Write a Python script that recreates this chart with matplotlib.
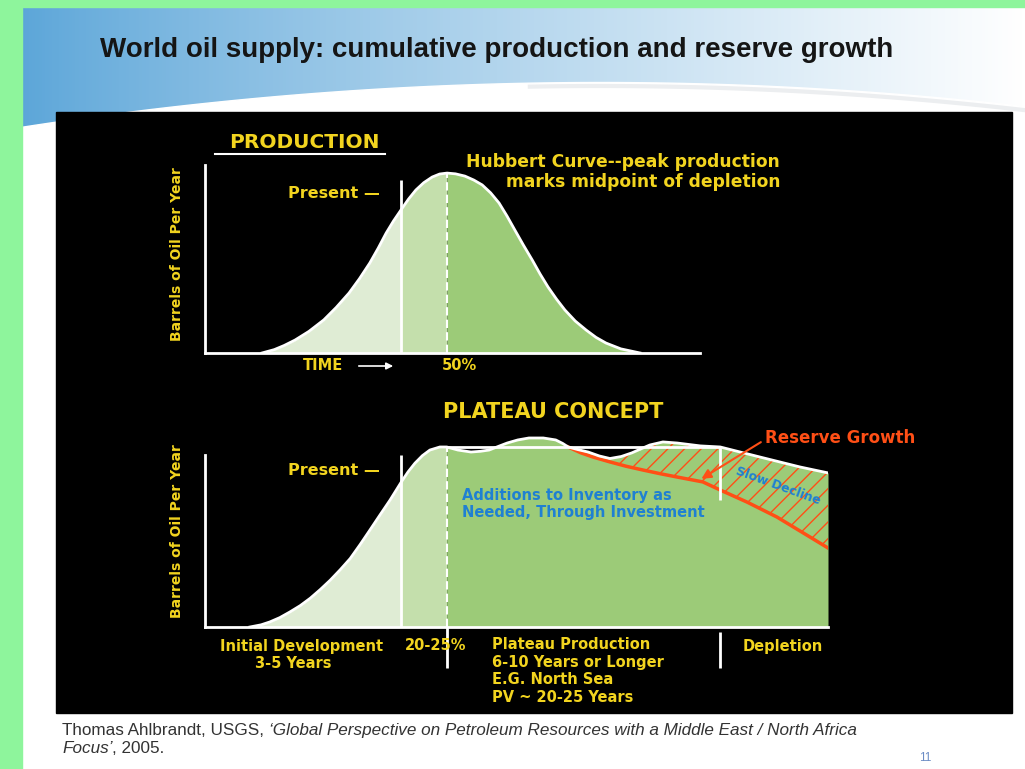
import matplotlib.pyplot as plt
import numpy as np
from matplotlib.patches import Rectangle

W, H = 1025, 769

# ---- values ----
# top panel: Hubbert curve (time 0-100 across the axis, production 0-100)
hubbert_t = [11.5, 14, 16, 18.2, 21, 24.0, 26.5, 29.1, 31.2, 33.3, 35, 36.6,
             38.1, 39.6, 41.1, 42.6, 44.2, 45.9, 47.4, 48.9, 50.6, 52.5, 54.3,
             56.0, 57.7, 59.4, 61.0, 62.6, 64.3, 66.1, 67.7, 69.3, 71.0, 72.7,
             74.8, 77.0, 79.0, 81.0, 84.0, 87.9]
hubbert_q = [0, 1.8, 4.0, 6.9, 11.5, 17.6, 24.2, 31.9, 39.5, 47.9, 55.8, 63.8,
             70.3, 76.1, 81.8, 86.7, 90.6, 93.6, 95.2, 95.7, 95.3, 94.1, 92.0,
             89.4, 85.2, 79.8, 72.9, 65.4, 57.5, 49.5, 42.0, 35.1, 28.7, 22.9,
             17.0, 12.2, 8.3, 5.3, 2.2, 0]
present_top = 39.6
peak_top = 48.9

# bottom panel: plateau concept
plateau_t = [7.2, 9, 10.4, 12, 13.6, 15.3, 16.9, 18.5, 20.1, 21.7, 23.3, 24.9,
             26.5, 28.1, 29.7, 31.5, 32.6, 33.7, 34.9, 36.1, 37.7, 38.8, 40.6,
             42.7, 44.2, 45.6, 47.0, 48.5, 50.2, 52.0, 54.3, 56.3, 57.4, 58.3,
             59.9, 61.5, 63.3, 65.0, 66.8, 68.5, 70.0, 71.4, 73.5, 75.8, 79.5,
             82.7, 89.1, 95.5, 100]
plateau_q = [0, 1.2, 2.8, 5.2, 8.3, 11.9, 16, 20.8, 26, 31.8, 38, 45.8,
             54, 62.3, 70.5, 80.5, 86.2, 91, 95.2, 98.3, 100, 100, 98.3,
             97.2, 97.6, 98.3, 100.2, 102.2, 103.9, 105, 105, 103.9, 102, 100,
             98.5, 97.2, 95, 93.6, 94.7, 96.7, 99.0, 101.1, 102.8, 102.2, 100.6,
             100, 94.4, 88.9, 85.6]
reserve_t = [58.3, 60.3, 62.3, 65.0, 67.6, 70.3, 73.0, 75.8, 79.9, 82.7, 87.0,
             91.8, 97.1, 100]
reserve_q = [100, 96.8, 94.4, 91.7, 89.3, 87.2, 85.2, 83.3, 80.6, 76.1, 69.4,
             61.1, 50, 43.9]
present_bot = 31.5
early_bot = 38.8
depletion_bot = 82.7
plateau_level = 100

yellow = '#f2d41f'
orange = '#ff4f16'
blue = '#1f80d2'
light = '#dfecd4'
mid = '#c4dfac'
green = '#9ccb78'

plt.rcParams['font.family'] = ['Liberation Sans', 'DejaVu Sans']
plt.rcParams['hatch.linewidth'] = 1.0

fig = plt.figure(figsize=(W / 100, H / 100), dpi=100)


def put(x, y, s, **kw):
    kw.setdefault('va', 'center')
    return fig.text(x / W, 1 - y / H, s, **kw)


# ---- slide background ----
bg = fig.add_axes([0, 0, 1, 1])
bg.set_xlim(0, W)
bg.set_ylim(H, 0)
bg.axis('off')

gx = np.linspace(0, 1, 300) ** 0.85
left_col = np.array([0.36, 0.65, 0.85])
grad = left_col[None, :] * (1 - gx[:, None]) + gx[:, None]
bg.imshow(grad[None, :, :], extent=(22, W, 140, 7), aspect='auto', zorder=0)

sx = np.linspace(22, W, 80)
sy = 82 + 45 * ((sx - 600) / 580) ** 2
bg.fill_between(sx, sy, H, color='white', zorder=1)
bg.plot(sx[40:], sy[40:] + 4, color='#eceef0', lw=3, zorder=1)

bg.add_patch(Rectangle((0, 0), 22, H, color='#8ef59c', zorder=2))
bg.add_patch(Rectangle((0, 0), W, 7, color='#8ef59c', zorder=2))
bg.add_patch(Rectangle((56, 112), 956, 601, color='black', zorder=2))

put(100, 50, 'World oil supply: cumulative production and reserve growth',
    fontsize=20, fontweight='bold', color='#151515')

# ---- top panel: production ----
ax1 = fig.add_axes([205 / W, 1 - 353 / H, 495 / W, 188 / H])
ax1.set_xlim(0, 100)
ax1.set_ylim(0, 100)
ax1.set_facecolor('none')
t = np.array(hubbert_t)
q = np.array(hubbert_q)
m1 = t <= present_top
m2 = (t >= present_top) & (t <= peak_top)
m3 = t >= peak_top
ax1.fill_between(t[m1], q[m1], color=light, lw=0)
ax1.fill_between(t[m2], q[m2], color=mid, lw=0)
ax1.fill_between(t[m3], q[m3], color=green, lw=0)
ax1.plot(t, q, color='white', lw=2)
ax1.vlines(present_top, 0, 92, color='white', lw=2)
ax1.vlines(peak_top, 0, max(hubbert_q), color='white', lw=1.5,
           linestyles=(0, (4, 2)))
for side in ['top', 'right']:
    ax1.spines[side].set_visible(False)
for side in ['left', 'bottom']:
    ax1.spines[side].set_color('white')
    ax1.spines[side].set_linewidth(2)
ax1.set_xticks([])
ax1.set_yticks([])

# ---- bottom panel: plateau concept ----
ax2 = fig.add_axes([205 / W, 1 - 627 / H, 623 / W, 200 / H])
ax2.set_xlim(0, 100)
ax2.set_ylim(0, 111.1)
ax2.set_facecolor('none')
t = np.array(plateau_t)
q = np.array(plateau_q)
m1 = t <= present_bot
m2 = (t >= present_bot) & (t <= early_bot)
m3 = t >= early_bot
ax2.fill_between(t[m1], q[m1], color=light, lw=0)
ax2.fill_between(t[m2], q[m2], color=mid, lw=0)
ax2.fill_between(t[m3], q[m3], color=green, lw=0)

top_part = t >= reserve_t[0]
hx = list(reserve_t) + list(t[top_part][::-1])
hy = list(reserve_q) + list(q[top_part][::-1])
ax2.fill(hx, hy, facecolor='none', edgecolor=orange, hatch='//', lw=0)
ax2.plot(reserve_t, reserve_q, color=orange, lw=2.5)

ax2.hlines(plateau_level, early_bot, depletion_bot, color='white', lw=2)
ax2.plot(t, q, color='white', lw=2)
ax2.vlines(present_bot, 0, 95.6, color='white', lw=2)
ax2.vlines(early_bot, 0, plateau_level, color='white', lw=1.5,
           linestyles=(0, (4, 2)))
ax2.vlines(early_bot, -22.8, 0, color='white', lw=2, clip_on=False)
ax2.vlines(depletion_bot, 70.6, plateau_level, color='white', lw=2)
ax2.vlines(depletion_bot, -22.8, -2.8, color='white', lw=2, clip_on=False)
ax2.annotate('', xy=(79.3, 81.5), xytext=(89.6, 103.5),
             arrowprops=dict(arrowstyle='-|>', color=orange, lw=1.5,
                             mutation_scale=14))
for side in ['top', 'right']:
    ax2.spines[side].set_visible(False)
for side in ['left', 'bottom']:
    ax2.spines[side].set_color('white')
    ax2.spines[side].set_linewidth(2)
ax2.spines['left'].set_bounds(0, 95.6)
ax2.set_xticks([])
ax2.set_yticks([])

# ---- labels ----
cf = 'DejaVu Sans'
bold = dict(color=yellow, fontweight='bold', family=cf)
put(304, 143, 'PRODUCTION', ha='center', fontsize=14.5, **bold)
bg.plot([215, 385], [154, 154], color='white', lw=1.5, zorder=3)
put(177, 254, 'Barrels of Oil Per Year', ha='center', rotation=90,
    fontsize=10, **bold)
put(288, 193, 'Present \u2014', ha='left', fontsize=11.5, **bold)
put(780, 172, 'Hubbert Curve--peak production\nmarks midpoint of depletion',
    ha='right', multialignment='right', fontsize=12.3, linespacing=1.15, **bold)
put(303, 366, 'TIME', ha='left', fontsize=10.5, **bold)
bg.annotate('', xy=(396, 366), xytext=(356, 366), zorder=3,
            arrowprops=dict(arrowstyle='-|>', color='white', lw=1.2))
put(459, 366, '50%', ha='center', fontsize=10.5, **bold)

put(553, 412, 'PLATEAU CONCEPT', ha='center', fontsize=15, **bold)
put(177, 531, 'Barrels of Oil Per Year', ha='center', rotation=90,
    fontsize=10, **bold)
put(288, 470, 'Present \u2014', ha='left', fontsize=11.5, **bold)
put(765, 438, 'Reserve Growth', ha='left', fontsize=12, color=orange,
    fontweight='bold', family=cf)
put(462, 504, 'Additions to Inventory as\nNeeded, Through Investment',
    ha='left', fontsize=10.5, color=blue, fontweight='bold', family=cf,
    linespacing=1.15)
put(778, 486, 'Slow Decline', ha='center', fontsize=9, color=blue,
    fontweight='bold', family=cf, rotation=-20)
put(302, 646, 'Initial Development', ha='center', fontsize=10.5, **bold)
put(293, 663, '3-5 Years', ha='center', fontsize=10.5, **bold)
put(436, 646, '20-25%', ha='center', fontsize=10.5, **bold)
put(492, 671, 'Plateau Production\n6-10 Years or Longer\nE.G. North Sea\nPV ~ 20-25 Years',
    ha='left', fontsize=10.5, linespacing=1.2, **bold)
put(783, 646, 'Depletion', ha='center', fontsize=10.5, **bold)

# ---- source note ----
src = dict(fontsize=12.3, color='#333333', va='baseline')
a = put(62, 735, 'Thomas Ahlbrandt, USGS, ', **src)
bg.annotate('\u2018Global Perspective on Petroleum Resources with a Middle East / North Africa',
            xy=(1, 0), xycoords=a, va='bottom', ha='left', fontsize=12.3,
            color='#333333', style='italic')
b = put(62, 753, 'Focus\u2019', style='italic', **src)
bg.annotate(', 2005.', xy=(1, 0), xycoords=b, va='bottom', ha='left',
            fontsize=12.3, color='#333333')
put(925, 758, '11', ha='center', fontsize=8.5, color='#6b8cc4')

fig.savefig('out.png', dpi=100)
